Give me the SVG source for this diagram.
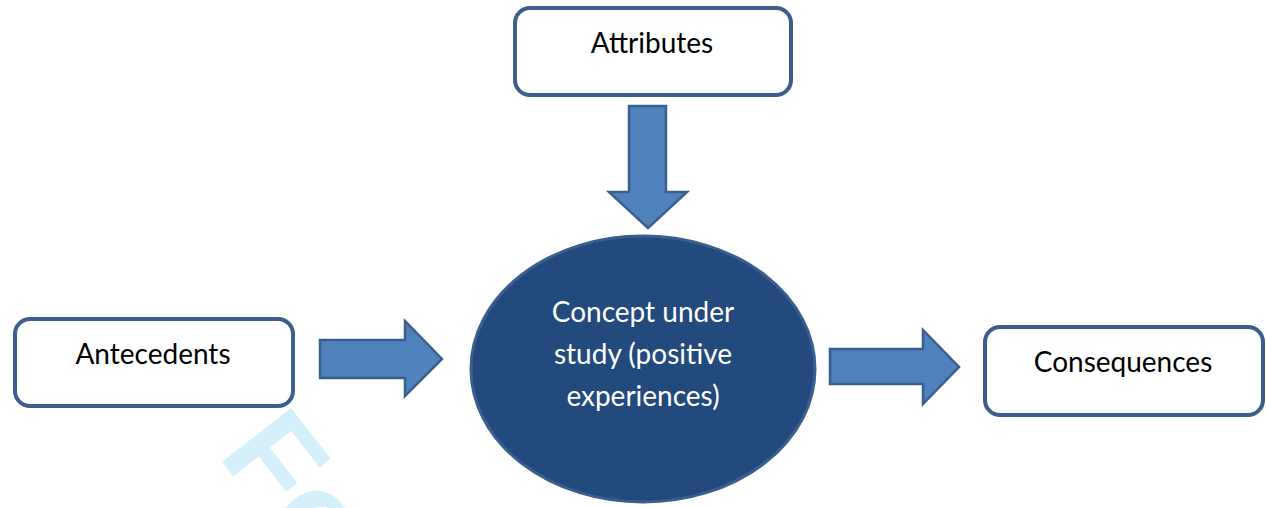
<svg xmlns="http://www.w3.org/2000/svg" width="1266" height="508" viewBox="0 0 1266 508">
<style>
.box{fill:#ffffff;stroke:#3b5e8c;stroke-width:4}
.arrow{fill:#4f81bd;stroke:#3a5f8f;stroke-width:2.5;stroke-linejoin:miter}
.lbl{font-family:Lato,"Open Sans",sans-serif;font-size:28px;fill:#000000;text-anchor:middle}
.wl{font-family:Lato,"Open Sans",sans-serif;font-size:28px;fill:#ffffff;text-anchor:middle}
.wm{font-family:"Liberation Sans",Arial,sans-serif;font-weight:bold;font-size:127px;fill:#d5effb}
</style>
<text class="wm" transform="translate(217,455) rotate(52)">Fo</text>
<g id="attributes">
<rect class="box" x="515" y="8" width="276" height="87" rx="15"/>
<text class="lbl" x="652" y="53">Attributes</text>
</g>
<g id="antecedents">
<rect class="box" x="15" y="319" width="278" height="87" rx="15"/>
<text class="lbl" x="153" y="364">Antecedents</text>
</g>
<g id="consequences">
<rect class="box" x="985" y="327" width="278" height="88" rx="15"/>
<text class="lbl" x="1123" y="372">Consequences</text>
</g>
<g id="concept">
<ellipse cx="643" cy="369" rx="172" ry="133" fill="#224a7c" stroke="#3a5f8f" stroke-width="3"/>
<text class="wl" x="643" y="322">Concept under</text>
<text class="wl" x="643" y="364">study (positive</text>
<text class="wl" x="643" y="406">experiences)</text>
</g>
<g id="connectors">
<polygon class="arrow" points="629,106 666,106 666,192 687,192 648,228 609,192 629,192"/>
<polygon class="arrow" points="320,340 405,340 405,321 442,359 405,396 405,378 320,378"/>
<polygon class="arrow" points="830,349 923,349 923,330 959,367 923,404 923,384 830,384"/>
</g>
</svg>
